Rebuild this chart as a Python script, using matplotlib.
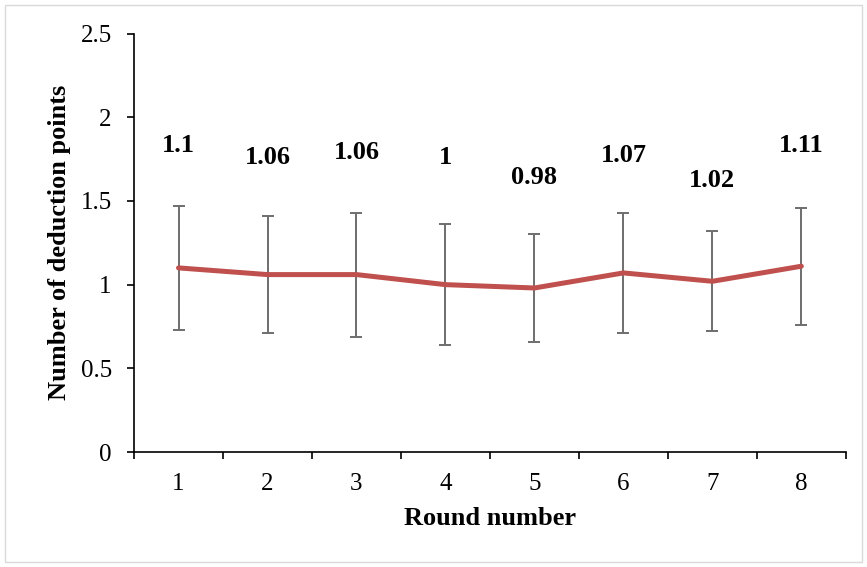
import matplotlib
matplotlib.use("Agg")
import matplotlib.pyplot as plt
from matplotlib.patches import Rectangle

# data
rounds = [1, 2, 3, 4, 5, 6, 7, 8]
means = [1.10, 1.06, 1.06, 1.00, 0.98, 1.07, 1.02, 1.11]
errors = [0.37, 0.35, 0.37, 0.36, 0.325, 0.36, 0.30, 0.35]
labels = ["1.1", "1.06", "1.06", "1", "0.98", "1.07", "1.02", "1.11"]
yticks = [0, 0.5, 1, 1.5, 2, 2.5]
ytick_labels = ["0", "0.5", "1", "1.5", "2", "2.5"]

# label heights (layout, as placed in the original)
label_y = [1.83, 1.76, 1.79, 1.76, 1.64, 1.77, 1.625, 1.83]

plt.rcParams["font.family"] = ["Liberation Serif", "DejaVu Serif"]

fig = plt.figure(figsize=(8.67, 5.67), dpi=100)
ax = fig.add_axes([0.1546, 0.2028, 0.821, 0.738])

ax.errorbar(rounds, means, yerr=errors, fmt="none", ecolor="#6e6e6e",
            elinewidth=1.4, capsize=4, capthick=1.4, zorder=2)
ax.plot(rounds, means, color="#C0504D", linewidth=3.6, zorder=3,
        solid_capstyle="round")

for x, y, lab in zip(rounds, label_y, labels):
    ax.text(x, y, lab, ha="center", va="center", fontsize=19,
            fontweight="bold")

ax.set_xlim(0.5, 8.5)
ax.set_ylim(0, 2.5)
ax.set_yticks(yticks)
ax.set_yticklabels(ytick_labels)
ax.set_xticks(rounds)
ax.set_xticks([r + 0.5 for r in [0] + rounds], minor=True)
ax.tick_params(axis="x", which="major", length=0, pad=15, labelsize=18)
ax.tick_params(axis="x", which="minor", length=5, width=1.2, direction="out")
ax.tick_params(axis="y", length=5, width=1.2, direction="out", labelsize=18, pad=11)

for side in ["top", "right"]:
    ax.spines[side].set_visible(False)
for side in ["left", "bottom"]:
    ax.spines[side].set_linewidth(1.2)

ax.set_xlabel("Round number", fontsize=19, fontweight="bold", labelpad=9)
ax.set_ylabel("Number of deduction points", fontsize=19, fontweight="bold",
              labelpad=7)

fig.patches.append(Rectangle((0.006, 0.009), 0.988, 0.982,
                             transform=fig.transFigure, fill=False,
                             edgecolor="#d9d9d9", linewidth=1))

fig.savefig("out.png", dpi=100)
